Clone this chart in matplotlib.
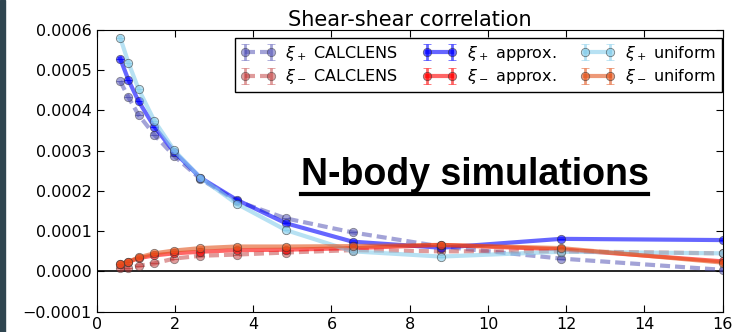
import numpy as np
import matplotlib
matplotlib.use("Agg")
import matplotlib.pyplot as plt
from matplotlib.lines import Line2D
from matplotlib.patches import Rectangle
from matplotlib.ticker import FuncFormatter

# --- Data ---
theta = [0.6, 0.81, 1.07, 1.47, 1.98, 2.65, 3.58, 4.83, 6.54, 8.8, 11.87, 16.0]

xip_calclens = [4.73, 4.33, 3.89, 3.40, 2.87, 2.30, 1.75, 1.32, 0.97, 0.62, 0.32, 0.04]
xim_calclens = [0.08, 0.08, 0.14, 0.20, 0.32, 0.39, 0.42, 0.47, 0.53, 0.50, 0.50, 0.45]
xip_approx = [5.29, 4.76, 4.23, 3.60, 2.97, 2.33, 1.78, 1.20, 0.74, 0.59, 0.81, 0.78]
xim_approx = [0.18, 0.24, 0.33, 0.40, 0.45, 0.49, 0.53, 0.54, 0.58, 0.66, 0.55, 0.25]
xip_uniform = [5.81, 5.19, 4.53, 3.75, 3.01, 2.33, 1.68, 1.03, 0.50, 0.37, 0.49, 0.45]
xim_uniform = [0.19, 0.24, 0.35, 0.45, 0.52, 0.58, 0.62, 0.62, 0.63, 0.66, 0.58, 0.22]

scale = 1e-4

series = [
    (r"$\xi_+$ CALCLENS", xip_calclens, "#4848b0", "--", 0.5),
    (r"$\xi_-$ CALCLENS", xim_calclens, "#c03838", "--", 0.5),
    (r"$\xi_+$ approx.", xip_approx, "blue", "-", 0.6),
    (r"$\xi_-$ approx.", xim_approx, "red", "-", 0.6),
    (r"$\xi_+$ uniform", xip_uniform, "skyblue", "-", 0.6),
    (r"$\xi_-$ uniform", xim_uniform, "#e2561e", "-", 0.6),
]

# --- Plot ---
fig = plt.figure(figsize=(7.37, 3.32), dpi=100)
fig.patches.append(Rectangle((0, 0), 5 / 737, 1, transform=fig.transFigure,
                             color="#2f4550", zorder=0))
ax = fig.add_axes([96.7 / 737, 1 - 311.7 / 332, 626 / 737, 281.7 / 332])

ax.axhline(0, color="black", lw=1.2, zorder=1)

handles = []
for label, vals, color, ls, alpha in series:
    y = np.array(vals) * scale
    h = ax.errorbar(theta, y, yerr=np.zeros(len(y)), color=color, ls=ls, lw=3,
                    marker="o", ms=6, mec="#333333", mew=0.6, alpha=alpha,
                    capsize=3, elinewidth=2, label=label)
    if ls == "--":
        h[0].set_dashes((2.4, 1.2))
    handles.append(h)

ax.set_xlim(0, 16)
ax.set_ylim(-0.0001, 0.0006)
ax.set_xticks(np.arange(0, 17, 2))
ax.set_yticks(np.arange(-0.0001, 0.00061, 0.0001))
ax.yaxis.set_major_formatter(
    FuncFormatter(lambda v, pos: ("%.4f" % v).replace("-", "\u2212")))
ax.tick_params(direction="in", top=True, right=True, labelsize=11.5, length=5)
ax.set_title("Shear-shear correlation", fontsize=15, pad=3)

leg = ax.legend(handles, [s[0] for s in series],
                ncol=3, loc="upper right",
                bbox_to_anchor=(1 - 1 / 626, 1 - 8 / 281.7),
                fontsize=11.5, numpoints=2, handlelength=2.2, columnspacing=1.5,
                handletextpad=0.6, fancybox=False, edgecolor="black",
                framealpha=1, borderaxespad=0, labelspacing=0.3,
                borderpad=0.35)
leg.get_frame().set_linewidth(1)

txt = fig.text(474.5 / 737, 1 - 185 / 332, "N-body simulations",
               fontsize=27, fontweight="bold", family="Liberation Sans",
               ha="center", va="baseline")
fig.canvas.draw()
bb = txt.get_window_extent().transformed(fig.transFigure.inverted())
fig.add_artist(Line2D([bb.x0, bb.x1], [1 - 194 / 332] * 2,
                      transform=fig.transFigure, color="black", lw=3))

fig.savefig("out.png", dpi=100)
